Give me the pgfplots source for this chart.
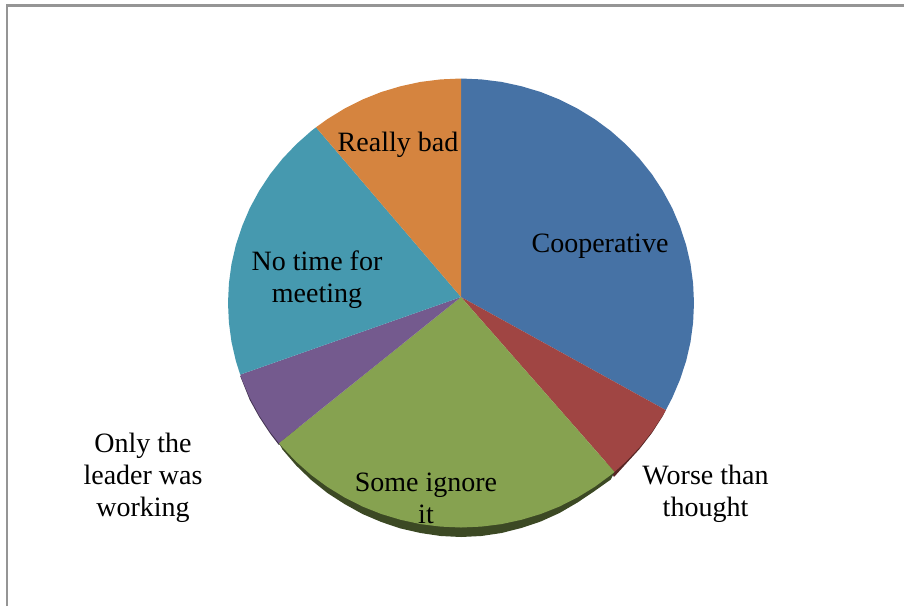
\documentclass[border=0pt]{standalone}
\usepackage{fontspec}
\setmainfont{Liberation Serif}
\usepackage{pgfplots}
\pgfplotsset{compat=1.18}

\definecolor{cBlue}{HTML}{4672A5}
\definecolor{cRed}{HTML}{A04543}
\definecolor{cGreen}{HTML}{86A250}
\definecolor{cPurple}{HTML}{745A8E}
\definecolor{cTeal}{HTML}{4699AF}
\definecolor{cOrange}{HTML}{D5843F}
\definecolor{cFrame}{HTML}{959595}

\tikzset{lbl/.style={font=\fontsize{28}{32}\selectfont, align=center, text=black, inner sep=0pt, anchor=center}}

\begin{document}
\begin{tikzpicture}
\useasboundingbox (0,0) rectangle (904pt,606pt);
\begin{axis}[
    at={(0,0)},
    anchor=south west,
    width=904pt,
    height=606pt,
    scale only axis,
    xmin=0, xmax=904,
    ymin=0, ymax=606,
    y dir=reverse,
    hide axis,
    clip=false,
]

% frame, top and left only
\addplot[draw=cFrame, line width=2.2pt] coordinates {(7,606) (7,5.5) (904,5.5)};

% 3d rim under the slices
\addplot[draw=none, fill=cPurple!55!black] coordinates {
    (240.2,376) (249.8,400) (259.2,417) (270.1,433.5) (278.9,445) (300,430) (270,380)
} -- cycle;
\addplot[draw=none, fill=cRed!55!black] coordinates {
    (665.8,410.1) (662.8,416) (651.9,433) (639.5,449) (625.8,464) (614,477) (600,450)
} -- cycle;
\addplot[draw=none, fill=cGreen!45!black] coordinates {
    (614.5,471.9) (610.8,479.5) (594.6,491) (577.5,502.5) (559.5,513) (540.7,521.5) (521.3,528)
    (501.5,533) (481.3,536) (461,537) (440.7,536) (420.5,533) (400.7,528.5) (381.3,522)
    (362.5,514) (344.5,504) (327.4,493) (311.2,480) (296.2,465.5) (282.5,449.5) (278.9,443)
    (461,400)
} -- cycle;

% Cooperative
\addplot[draw=none, fill=cBlue] coordinates {
    (461,297) (461,78.5) (481.3,79.4) (501.5,81.9) (521.3,86.2) (540.7,92) (559.5,99.5)
    (577.5,108.6) (594.6,119.1) (610.8,131) (625.8,144.3) (639.5,158.7) (651.9,174.2)
    (662.8,190.8) (672.2,208.1) (679.9,226.2) (686.1,244.9) (690.5,264) (693.1,283.4)
    (694,303) (693.1,322.6) (690.5,342) (686.1,361.1) (679.9,379.8) (672.2,397.9) (665.8,410.1)
} -- cycle;
% Worse than thought
\addplot[draw=none, fill=cRed] coordinates {
    (461,297) (665.8,410.1) (662.8,415.3) (651.9,431.8) (639.5,447.3) (625.8,461.7) (614.5,471.9)
} -- cycle;
% Some ignore it
\addplot[draw=none, fill=cGreen] coordinates {
    (461,297) (614.5,471.9) (610.8,475) (594.6,486.9) (577.5,497.4) (559.5,506.5) (540.7,514)
    (521.3,519.8) (501.5,524.1) (481.3,526.6) (461,527.5) (440.7,526.6) (420.5,524.1)
    (400.7,519.8) (381.3,514) (362.5,506.5) (344.5,497.4) (327.4,486.9) (311.2,475)
    (296.2,461.7) (282.5,447.3) (278.9,443.1)
} -- cycle;
% Only the leader was working
\addplot[draw=none, fill=cPurple] coordinates {
    (461,297) (278.9,443.1) (270.1,431.8) (259.2,415.3) (249.8,397.9) (242.1,379.8) (240.2,374.6)
} -- cycle;
% No time for meeting
\addplot[draw=none, fill=cTeal] coordinates {
    (461,297) (240.2,374.6) (235.9,361.1) (231.5,342) (228.9,322.6) (228,303) (228.9,283.4)
    (231.5,264) (235.9,244.9) (242.1,226.2) (249.8,208.1) (259.2,190.8) (270.1,174.2)
    (282.5,158.7) (296.2,144.3) (311.2,131) (316,127.3)
} -- cycle;
% Really bad
\addplot[draw=none, fill=cOrange] coordinates {
    (461,297) (316,127.3) (327.4,119.1) (344.5,108.6) (362.5,99.5) (381.3,92) (400.7,86.2)
    (420.5,81.9) (440.7,79.4) (461,78.5)
} -- cycle;

\node[lbl] at (axis cs:600,246) {Cooperative};
\node[lbl] at (axis cs:398,145) {Really bad};
\node[lbl] at (axis cs:317,280) {No time for\\meeting};
\node[lbl] at (axis cs:426,498) {Some ignore\\it};
\node[lbl] at (axis cs:143,478) {Only the\\leader was\\working};
\node[lbl] at (axis cs:705.5,494) {Worse than\\thought};

\end{axis}
\end{tikzpicture}
\end{document}
